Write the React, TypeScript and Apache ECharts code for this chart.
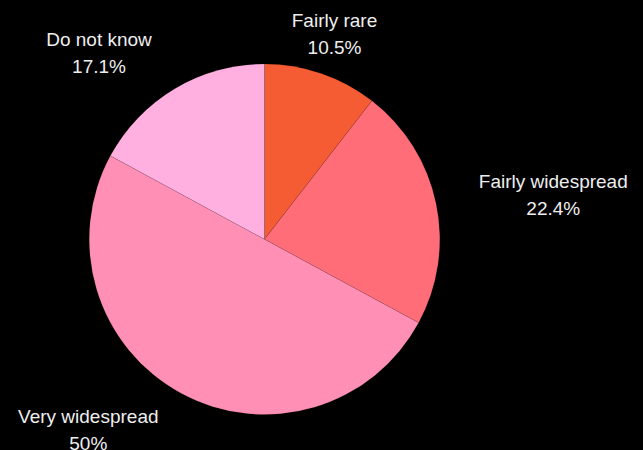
import React, { useEffect, useRef } from "react";
import * as echarts from "echarts";

const categories = ["Fairly rare", "Fairly widespread", "Very widespread", "Do not know"];
const values = [10.5, 22.4, 50, 17.1];
const colors = ["#f55c33", "#ff6d79", "#ff8fb5", "#ffb0e0"];
const labelPositions: [number, number][] = [
  [334.5, 34],
  [553.3, 195],
  [88.3, 430],
  [99, 53],
];

export default function App() {
  const ref = useRef<HTMLDivElement>(null);
  useEffect(() => {
    document.body.style.margin = "0";
    document.body.style.background = "#000";
    const chart = echarts.init(ref.current!, undefined, { renderer: "svg" });
    chart.setOption({
      animation: false,
      backgroundColor: "#000000",
      series: [
        {
          type: "pie",
          center: [264.5, 239.3],
          radius: 175.3,
          startAngle: 90,
          clockwise: true,
          data: categories.map((name, i) => ({
            name,
            value: values[i],
            itemStyle: { color: colors[i] },
          })),
          itemStyle: { borderColor: "rgba(0,0,0,0.2)", borderWidth: 0.4 },
          label: {
            show: true,
            color: "#eeeeee",
            fontFamily: "Liberation Sans, Arial, sans-serif",
            fontSize: 19,
            lineHeight: 27,
            overflow: "none",
            width: 300,
            align: "center",
            formatter: (p: any) => `${p.name}\n${p.value}%`,
          },
          labelLine: { show: false },
          labelLayout: (p: any) => {
            const pos = labelPositions[p.dataIndex];
            return { x: pos[0], y: pos[1], align: "center", verticalAlign: "middle" };
          },
          emphasis: { disabled: true },
        },
      ],
    });
    return () => chart.dispose();
  }, []);
  return <div ref={ref} style={{ width: 643, height: 450 }} />;
}
